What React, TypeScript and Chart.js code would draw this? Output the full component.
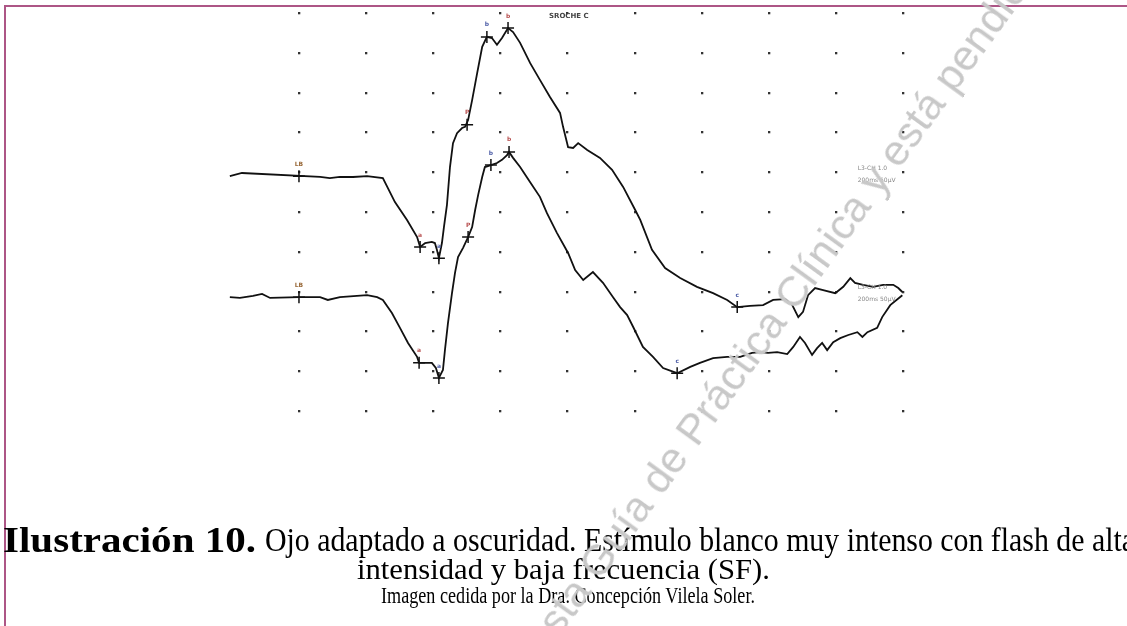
import React, { useEffect, useRef } from "react";
import { Chart, registerables } from "chart.js";

Chart.register(...registerables);

// ---- Data (time in ms, amplitude in µV; 20 ms and 100 µV per grid division) ----
const upperTimeMs = [
  -20.6, -17.0, 6.3, 9.2, 12.2, 16.1, 20.3, 25.0, 28.6, 32.2, 35.2, 36.1, 37.6, 39.6, 40.5, 41.1, 41.7,
  42.6, 43.2, 44.1, 45.0, 45.9, 47.1, 48.6, 49.5, 50.4, 51.6, 53.1, 54.6, 56.0, 57.5, 59.0, 60.5, 62.3,
  63.8, 65.9, 68.9, 71.8, 74.8, 77.8, 78.7, 80.2, 81.7, 83.2, 85.9, 89.7, 93.3, 96.6, 100.2, 101.7,
  105.2, 109.1, 113.6, 118.6, 123.4, 127.6, 130.6, 134.4, 138.3, 141.3, 144.9, 147.0, 148.8, 150.2,
  151.7, 153.8, 156.2, 159.8, 162.2, 164.3, 165.7, 168.1, 171.1, 174.1, 177.1, 178.6, 179.8,
];
const upperMicroV = [
  90, 98, 88, 85, 88, 88, 90, 85, 25, -20, -63, -88, -78, -75, -78, -95, -116,
  -78, -38, 18, 113, 173, 198, 211, 214, 231, 281, 349, 415, 440, 437, 420, 437, 462,
  452, 425, 374, 332, 289, 249, 214, 163, 161, 173, 156, 136, 106, 63, 5, -20,
  -95, -141, -166, -188, -204, -221, -239, -236, -234, -221, -219, -234, -264, -251,
  -209, -191, -196, -204, -188, -166, -178, -183, -188, -183, -183, -191, -201,
];
const lowerTimeMs = [
  -20.6, -17.6, -13.7, -11.0, -8.6, 0.0, 6.3, 8.6, 12.2, 20.3, 23.3, 25.0, 27.7, 30.1, 32.5, 35.2,
  35.8, 37.6, 39.6, 40.8, 41.7, 42.9, 43.5, 44.4, 45.6, 46.5, 47.4, 48.9, 50.4, 51.6, 52.5, 53.4,
  54.6, 55.4, 57.2, 59.0, 60.5, 62.0, 62.6, 63.8, 65.9, 68.9, 71.8, 73.9, 76.9, 80.2, 82.3, 84.7,
  87.6, 90.6, 93.6, 95.7, 97.8, 99.6, 102.5, 105.5, 108.5, 112.7, 116.6, 119.5, 123.4, 127.6, 131.5,
  135.0, 137.4, 139.8, 142.5, 145.5, 147.3, 149.3, 150.8, 152.9, 154.4, 155.9, 157.4, 159.2, 161.3,
  163.7, 166.4, 167.9, 169.4, 172.3, 173.8, 176.2, 179.8,
];
const lowerMicroV = [
  -214, -216, -211, -206, -216, -214, -214, -221, -214, -209, -214, -221, -254, -291, -329, -364,
  -379, -379, -379, -392, -417, -397, -347, -279, -204, -153, -113, -90, -63, -38, 5, 43,
  88, 113, 118, 123, 131, 143, 151, 136, 113, 75, 38, -3, -53, -103, -146, -171,
  -151, -178, -214, -239, -259, -289, -339, -364, -392, -405, -389, -379, -367, -364, -364,
  -354, -352, -354, -352, -357, -339, -314, -329, -359, -342, -329, -347, -327, -317,
  -309, -302, -314, -302, -291, -264, -234, -209,
];
const upperMarkerMs = [0, 36.1, 41.7, 50.1, 56.0, 62.3, 130.6];
const upperMarkerUV = [90, -88, -116, 219, 440, 462, -239];
const lowerMarkerMs = [0, 35.8, 41.7, 50.4, 57.2, 62.6, 112.7];
const lowerMarkerUV = [-214, -379, -417, -63, 118, 151, -405];
const markerLabels = ["LB", "a", "a", "P", "b", "b", "c"];
const gridTimesMs = [0, 20, 40, 60, 80, 100, 120, 140, 160, 180];
const gridMicroV = [-500, -400, -300, -200, -100, 0, 100, 200, 300, 400, 500];
const traceTitle = "SROCHE C";
const legendUpper = ["L3-CH 1.0", "200ms 50µV"];
const legendLower = ["L3-CH 1.0", "200ms 50µV"];

const captionBold = "Ilustración 10.";
const captionRest = "Ojo adaptado a oscuridad. Estímulo blanco muy intenso con flash de alta";
const captionLine2 = "intensidad y baja frecuencia (SF).";
const captionLine3 = "Imagen cedida por la Dra. Concepción Vilela Soler.";
const watermark = "esta Guía de Práctica Clínica y está pendiente su actualización";

const dotGridPlugin = {
  id: "dotGrid",
  beforeDatasetsDraw(chart: any) {
    const { ctx, scales } = chart;
    const xs = scales.x;
    const ys = scales.y;
    ctx.save();
    ctx.fillStyle = "#333";
    for (const t of gridTimesMs) {
      for (const v of gridMicroV) {
        const px = xs.getPixelForValue(t);
        const py = ys.getPixelForValue(v);
        ctx.fillRect(Math.round(px) - 1, Math.round(py) - 1, 2.3, 2.3);
      }
    }
    ctx.restore();
  },
  afterDatasetsDraw(chart: any) {
    const { ctx, scales } = chart;
    const xs = scales.x;
    const ys = scales.y;
    ctx.save();
    ctx.font = "bold 6px 'DejaVu Sans'";
    ctx.textAlign = "center";
    ctx.textBaseline = "bottom";
    const drawLabels = (ms: number[], uv: number[]) => {
      ms.forEach((t, i) => {
        ctx.fillStyle = i === 0 ? "#9a6a3a" : i % 2 ? "#b85050" : "#5060a8";
        ctx.fillText(markerLabels[i], xs.getPixelForValue(t), ys.getPixelForValue(uv[i]) - 9);
      });
    };
    drawLabels(upperMarkerMs, upperMarkerUV);
    drawLabels(lowerMarkerMs, lowerMarkerUV);
    ctx.fillStyle = "#444";
    ctx.font = "bold 7px 'DejaVu Sans'";
    ctx.textAlign = "left";
    ctx.textBaseline = "middle";
    ctx.fillText(traceTitle, xs.getPixelForValue(74.5), ys.getPixelForValue(492));
    ctx.font = "6px 'DejaVu Sans'";
    ctx.fillStyle = "#888";
    legendUpper.forEach((s, i) => ctx.fillText(s, xs.getPixelForValue(166.5), ys.getPixelForValue(110 - i * 30)));
    legendLower.forEach((s, i) => ctx.fillText(s, xs.getPixelForValue(166.5), ys.getPixelForValue(-190 - i * 30)));
    ctx.restore();
  },
};

export default function App() {
  const canvasRef = useRef<HTMLCanvasElement>(null);
  const boldRef = useRef<HTMLDivElement>(null);
  const restRef = useRef<HTMLDivElement>(null);
  const line2Ref = useRef<HTMLDivElement>(null);
  const line3Ref = useRef<HTMLDivElement>(null);

  useEffect(() => {
    document.body.style.margin = "0";
    const fit = (el: HTMLDivElement | null, left: number, target: number) => {
      if (!el) return;
      el.style.transform = "none";
      const w = el.getBoundingClientRect().width;
      const k = target / w;
      el.style.transformOrigin = "0 0";
      el.style.transform = `scaleX(${k})`;
      el.style.left = `${left}px`;
    };
    fit(boldRef.current, 3, 253);
    fit(restRef.current, 265, 870);
    fit(line2Ref.current, 357, 413);
    fit(line3Ref.current, 381, 374);

    const mk = (ms: number[], uv: number[]) => ms.map((t, i) => ({ x: t, y: uv[i] }));
    const chart = new Chart(canvasRef.current as HTMLCanvasElement, {
      type: "line",
      data: {
        datasets: [
          {
            label: "upper",
            data: mk(upperTimeMs, upperMicroV),
            borderColor: "#111",
            borderWidth: 1.8,
            pointRadius: 0,
            tension: 0,
            clip: false,
          } as any,
          {
            label: "lower",
            data: mk(lowerTimeMs, lowerMicroV),
            borderColor: "#111",
            borderWidth: 1.8,
            pointRadius: 0,
            tension: 0,
            clip: false,
          } as any,
          {
            type: "scatter",
            label: "markers",
            data: [...mk(upperMarkerMs, upperMarkerUV), ...mk(lowerMarkerMs, lowerMarkerUV)],
            pointStyle: "cross",
            pointRadius: 6,
            borderColor: "#111",
            borderWidth: 1.5,
            showLine: false,
            clip: false,
          } as any,
        ],
      },
      options: {
        responsive: false,
        animation: false,
        events: [],
        layout: { padding: { left: 228.5, right: 224, top: 13, bottom: 215 } },
        scales: {
          x: { type: "linear", min: -21, max: 180, display: false },
          y: { type: "linear", min: -500, max: 500, display: false },
        },
        plugins: { legend: { display: false }, tooltip: { enabled: false } },
      },
      plugins: [dotGridPlugin],
    });
    return () => chart.destroy();
  }, []);

  const serif = "'Liberation Serif', 'DejaVu Serif', serif";
  const lineStyle = (top: number, fs: number, bold = false): React.CSSProperties => ({
    position: "absolute",
    top,
    left: 0,
    fontFamily: serif,
    fontSize: fs,
    lineHeight: `${fs}px`,
    fontWeight: bold ? "bold" : "normal",
    whiteSpace: "nowrap",
    color: "#000",
  });
  return (
    <div
      style={{
        position: "fixed",
        left: 0,
        top: 0,
        width: 1127,
        height: 626,
        overflow: "hidden",
        background: "#fff",
      }}
    >
      <canvas ref={canvasRef} width={1127} height={626} style={{ position: "absolute", left: 0, top: 0, display: "block" }} />
      <div style={{ position: "absolute", left: 4, top: 5, width: 1123, height: 2, background: "#ad5686" }} />
      <div style={{ position: "absolute", left: 4, top: 5, width: 2, height: 621, background: "#ad5686" }} />
      <div ref={boldRef} style={lineStyle(523, 35, true)}>{captionBold}</div>
      <div ref={restRef} style={lineStyle(524, 33)}>{captionRest}</div>
      <div ref={line2Ref} style={lineStyle(554, 30)}>{captionLine2}</div>
      <div ref={line3Ref} style={lineStyle(583, 24)}>{captionLine3}</div>
      <div
        style={{
          position: "absolute",
          left: 516,
          top: 636,
          fontFamily: "'Liberation Sans', Arial, sans-serif",
          fontSize: 43,
          lineHeight: "43px",
          whiteSpace: "nowrap",
          color: "#c8c8c8",
          transformOrigin: "0 0",
          transform: "rotate(-54deg)",
          pointerEvents: "none",
        }}
      >
        {watermark}
      </div>
    </div>
  );
}
